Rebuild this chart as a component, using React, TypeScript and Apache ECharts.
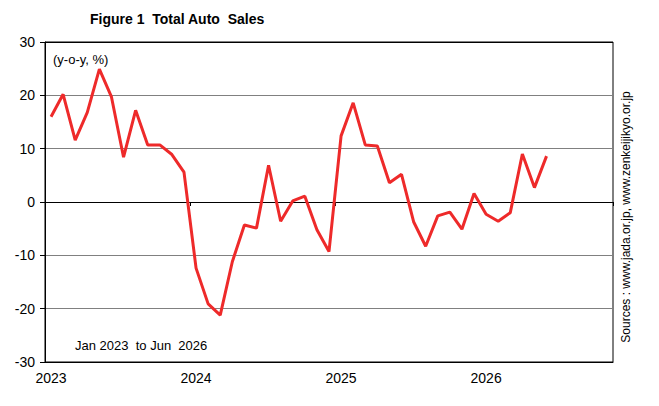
import React, { useEffect, useRef } from "react";
import * as echarts from "echarts";

const months: string[] = [];
for (let y = 2023; y <= 2026; y++) {
  for (let m = 1; m <= 12; m++) {
    if (y === 2026 && m > 11) break;
    months.push(`${y}-${String(m).padStart(2, "0")}`);
  }
}

const salesYoY: (number | null)[] = [
  16.0, 20.2, 11.6, 16.8, 24.9, 19.7, 8.4, 17.2, 10.7, 10.7, 8.9, 5.6,
  -12.4, -19.1, -21.2, -11.2, -4.3, -4.9, 6.9, -3.6, 0.2, 1.1, -5.2, -9.3,
  12.4, 18.6, 10.7, 10.5, 3.6, 5.2, -3.7, -8.3, -2.6, -1.9, -5.1, 1.6,
  -2.3, -3.6, -2.0, 9.0, 2.7, 8.6,
];

const yTicks = { min: -30, max: 30, interval: 10 };

const FONT = "Liberation Sans, Arial, sans-serif";

export default function App() {
  const ref = useRef<HTMLDivElement>(null);
  useEffect(() => {
    if (!ref.current) return;
    const chart = echarts.init(ref.current, undefined, { renderer: "svg" });
    const data = months.map((_, i) => (i < salesYoY.length ? salesYoY[i] : null));
    chart.setOption({
      animation: false,
      backgroundColor: "#fff",
      textStyle: { fontFamily: FONT },
      grid: {
        left: 45,
        top: 42,
        right: 46,
        bottom: 44,
        show: true,
        borderColor: "#000",
        borderWidth: 1,
      },
      xAxis: [
        {
          type: "category",
          data: months,
          boundaryGap: true,
          axisLine: { show: true, onZero: true, lineStyle: { color: "#000", width: 1 } },
          axisTick: { show: true, interval: 11, length: 4, inside: false, lineStyle: { color: "#000" } },
          axisLabel: { show: false },
          splitLine: { show: false },
        },
        {
          type: "category",
          data: months,
          boundaryGap: true,
          position: "bottom",
          axisLine: { show: true, onZero: false, lineStyle: { color: "#000" } },
          axisTick: { show: false },
          axisLabel: {
            show: true,
            interval: 11,
            margin: 9,
            color: "#000",
            fontSize: 14,
            fontFamily: FONT,
            formatter: (v: string) => v.slice(0, 4),
          },
          splitLine: { show: false },
        },
      ],
      yAxis: {
        type: "value",
        min: yTicks.min,
        max: yTicks.max,
        interval: yTicks.interval,
        axisLine: { show: true, lineStyle: { color: "#000" } },
        axisTick: { show: true, length: 5, inside: false, lineStyle: { color: "#000" } },
        axisLabel: { color: "#000", fontSize: 14, margin: 10, fontFamily: FONT },
        splitLine: {
          show: true,
          lineStyle: {
            color: ["#808080", "#808080", "#808080", "#000", "#808080", "#808080", "#000"],
            width: 1,
          },
        },
      },
      graphic: [
        {
          type: "text",
          left: 90,
          top: 12,
          style: {
            text: "Figure 1  Total Auto  Sales",
            fontSize: 14,
            fontWeight: "bold",
            fontFamily: FONT,
            fill: "#000",
          },
        },
        {
          type: "text",
          left: 53,
          top: 53,
          style: { text: "(y-o-y, %)", fontSize: 13, fontFamily: FONT, fill: "#000" },
        },
        {
          type: "text",
          left: 75,
          top: 339,
          style: { text: "Jan 2023  to Jun  2026", fontSize: 13, fontFamily: FONT, fill: "#000" },
        },
        {
          type: "text",
          x: 626,
          y: 217,
          rotation: Math.PI / 2,
          style: {
            text: "Sources : www.jada.or.jp, www.zenkeijikyo.or.jp",
            fontSize: 12,
            fontFamily: FONT,
            fill: "#000",
            align: "center",
            verticalAlign: "middle",
          },
        },
      ],
      series: [
        {
          type: "line",
          xAxisIndex: 0,
          data,
          showSymbol: false,
          symbol: "none",
          lineStyle: { color: "#EE2A2A", width: 3 },
          connectNulls: false,
        },
      ],
    });
    return () => chart.dispose();
  }, []);
  return (
    <div
      ref={ref}
      style={{ position: "fixed", left: 0, top: 0, width: 659, height: 406, background: "#fff" }}
    />
  );
}
